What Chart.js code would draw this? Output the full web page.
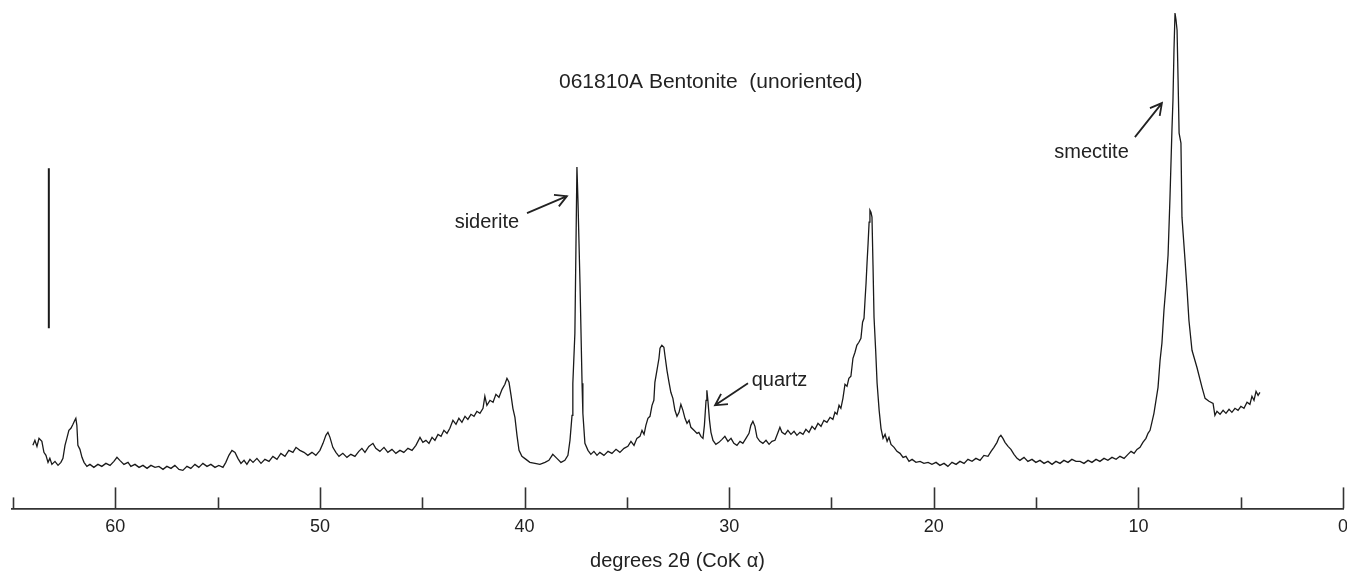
<!DOCTYPE html>
<html lang="en">
<head>
    <meta charset="utf-8" />
    <title>061810A Bentonite (unoriented)</title>
    <script src="https://cdn.jsdelivr.net/npm/chart.js"></script>
    <style>
        html, body {
            margin: 0;
            padding: 0;
            background: #fff;
        }
        #wrap {
            width: 1347px;
            height: 577px;
        }
    </style>
</head>
<body>
    <div id="wrap"><canvas id="xrdChart" width="1347" height="577"></canvas></div>

    <script>
        // trace: degrees 2theta (CoK alpha) and intensity (arbitrary units)
        var twoTheta = [
            64.03, 63.93, 63.83, 63.73, 63.59, 63.49, 63.39, 63.29, 63.20, 63.10, 62.95, 62.80, 62.66, 62.56, 62.46, 62.37,
            62.27, 62.17, 62.07, 61.98, 61.93, 61.88, 61.83, 61.73, 61.63, 61.53, 61.39, 61.24, 61.05, 60.85, 60.66, 60.46,
            60.26, 60.07, 59.92, 59.78, 59.58, 59.38, 59.24, 59.04, 58.84, 58.65, 58.45, 58.26, 58.06, 57.87, 57.67, 57.48,
            57.28, 57.09, 56.89, 56.70, 56.50, 56.31, 56.11, 55.92, 55.72, 55.52, 55.33, 55.13, 54.94, 54.74, 54.60, 54.45,
            54.30, 54.15, 54.01, 53.86, 53.71, 53.57, 53.42, 53.27, 53.08, 52.88, 52.69, 52.49, 52.30, 52.10, 51.91, 51.71,
            51.52, 51.32, 51.17, 50.98, 50.78, 50.59, 50.39, 50.20, 50.00, 49.85, 49.71, 49.61, 49.51, 49.37, 49.22, 49.07,
            48.88, 48.68, 48.49, 48.29, 48.10, 47.95, 47.80, 47.61, 47.41, 47.27, 47.07, 46.87, 46.68, 46.48, 46.29, 46.09,
            45.90, 45.70, 45.50, 45.31, 45.11, 44.97, 44.82, 44.67, 44.52, 44.38, 44.23, 44.08, 43.94, 43.79, 43.65, 43.50,
            43.35, 43.21, 43.06, 42.91, 42.77, 42.62, 42.47, 42.33, 42.18, 42.03, 41.94, 41.84, 41.69, 41.54, 41.40, 41.25,
            41.10, 40.96, 40.86, 40.76, 40.66, 40.57, 40.47, 40.37, 40.27, 40.13, 39.93, 39.74, 39.49, 39.25, 39.00, 38.81,
            38.62, 38.42, 38.22, 38.03, 37.88, 37.78, 37.68, 37.64, 37.54, 37.49, 37.44, 37.39, 37.29, 37.19, 37.15, 37.05,
            36.90, 36.76, 36.61, 36.46, 36.32, 36.12, 35.92, 35.73, 35.53, 35.34, 35.14, 34.95, 34.80, 34.65, 34.51, 34.36,
            34.26, 34.16, 34.07, 33.97, 33.87, 33.77, 33.68, 33.63, 33.53, 33.43, 33.38, 33.29, 33.19, 33.14, 33.04, 32.94,
            32.85, 32.75, 32.65, 32.55, 32.45, 32.36, 32.26, 32.16, 32.06, 31.96, 31.87, 31.72, 31.57, 31.48, 31.38, 31.28,
            31.21, 31.13, 31.09, 31.04, 30.96, 30.89, 30.79, 30.65, 30.50, 30.35, 30.21, 30.06, 29.91, 29.77, 29.62, 29.47,
            29.33, 29.18, 29.03, 28.94, 28.84, 28.74, 28.64, 28.50, 28.35, 28.20, 28.05, 27.91, 27.76, 27.61, 27.52, 27.42,
            27.27, 27.13, 26.98, 26.83, 26.69, 26.54, 26.39, 26.25, 26.10, 25.95, 25.81, 25.66, 25.51, 25.37, 25.22, 25.07,
            24.93, 24.83, 24.73, 24.63, 24.54, 24.44, 24.34, 24.24, 24.15, 24.05, 23.95, 23.85, 23.76, 23.66, 23.56, 23.48,
            23.41, 23.36, 23.31, 23.26, 23.21, 23.16, 23.12, 23.07, 23.02, 22.97, 22.92, 22.84, 22.77, 22.67, 22.58, 22.48,
            22.38, 22.28, 22.19, 22.09, 21.94, 21.80, 21.65, 21.50, 21.36, 21.21, 21.06, 20.87, 20.67, 20.48, 20.28, 20.09,
            19.89, 19.70, 19.50, 19.31, 19.11, 18.91, 18.72, 18.52, 18.33, 18.13, 17.94, 17.74, 17.55, 17.35, 17.20, 17.06,
            16.91, 16.81, 16.72, 16.62, 16.52, 16.37, 16.23, 16.08, 15.93, 15.79, 15.59, 15.40, 15.20, 15.01, 14.81, 14.61,
            14.42, 14.22, 14.03, 13.83, 13.64, 13.44, 13.25, 13.05, 12.85, 12.66, 12.46, 12.27, 12.07, 11.88, 11.68, 11.49,
            11.29, 11.09, 10.90, 10.70, 10.51, 10.36, 10.21, 10.07, 9.92, 9.78, 9.63, 9.53, 9.43, 9.34, 9.24, 9.14,
            9.04, 8.94, 8.85, 8.75, 8.65, 8.55, 8.46, 8.36, 8.31, 8.26, 8.21, 8.16, 8.11, 8.06, 8.01, 7.92,
            7.87, 7.72, 7.62, 7.53, 7.38, 7.14, 6.89, 6.74, 6.55, 6.35, 6.26, 6.16, 6.01, 5.86, 5.72, 5.57,
            5.43, 5.28, 5.13, 4.99, 4.84, 4.69, 4.55, 4.45, 4.35, 4.25, 4.15, 4.06
        ];
        var intensity = [
            63, 68, 62, 70, 67, 56, 53, 46, 50, 44, 47, 43, 46, 50, 63, 70,
            78, 80, 84, 88, 90, 83, 63, 59, 51, 46, 42, 44, 41, 44, 42, 45,
            43, 47, 51, 48, 44, 46, 42, 44, 41, 43, 40, 43, 41, 42, 39, 42,
            40, 43, 39, 38, 42, 40, 44, 41, 45, 42, 44, 41, 43, 41, 46, 53,
            58, 56, 50, 45, 48, 44, 49, 46, 50, 45, 49, 47, 52, 49, 55, 52,
            58, 56, 61, 58, 56, 53, 56, 53, 58, 65, 73, 76, 71, 61, 56, 52,
            55, 51, 54, 52, 57, 60, 56, 62, 65, 60, 57, 61, 56, 59, 55, 58,
            56, 60, 58, 63, 71, 66, 68, 65, 71, 68, 74, 72, 78, 75, 80, 88,
            84, 90, 86, 92, 89, 94, 92, 97, 95, 100, 112, 103, 108, 106, 114, 111,
            119, 124, 130, 126, 113, 100, 91, 73, 58, 52, 49, 46, 45, 44, 46, 48,
            54, 50, 46, 48, 53, 68, 93, 125, 175, 258, 341, 308, 225, 125, 95, 65,
            58, 54, 57, 53, 56, 53, 57, 55, 59, 56, 60, 62, 67, 63, 70, 72,
            78, 74, 83, 90, 92, 103, 108, 126, 138, 150, 160, 163, 161, 153, 138, 126,
            116, 110, 98, 92, 96, 104, 98, 90, 85, 88, 81, 78, 75, 76, 72, 70,
            83, 108, 118, 108, 88, 76, 68, 64, 66, 69, 72, 67, 70, 65, 63, 67,
            65, 70, 75, 83, 87, 82, 71, 67, 65, 68, 64, 67, 68, 76, 81, 76,
            74, 78, 74, 77, 73, 76, 74, 79, 76, 82, 79, 85, 82, 88, 86, 91,
            89, 96, 94, 103, 100, 110, 124, 122, 130, 132, 150, 156, 163, 166, 170, 186,
            190, 208, 225, 246, 265, 286, 298, 296, 291, 243, 191, 158, 125, 98, 80, 70,
            74, 67, 71, 64, 61, 57, 55, 51, 52, 47, 49, 46, 47, 45, 46, 44,
            46, 43, 45, 42, 46, 44, 47, 45, 49, 47, 50, 48, 53, 52, 57, 61,
            66, 71, 73, 70, 66, 62, 59, 54, 50, 48, 51, 47, 49, 46, 48, 45,
            47, 44, 47, 45, 48, 46, 49, 47, 47, 45, 48, 46, 49, 47, 50, 48,
            51, 49, 52, 50, 54, 57, 55, 59, 61, 66, 70, 75, 78, 86, 95, 108,
            121, 148, 165, 198, 223, 253, 308, 378, 408, 458, 495, 488, 478, 428, 375, 365,
            291, 248, 218, 188, 158, 141, 121, 110, 107, 105, 93, 97, 94, 98, 95, 99,
            96, 100, 98, 102, 100, 106, 104, 112, 108, 117, 113, 116
        ];

        // vertical intensity scale bar at the left
        var scaleBarX = [63.25, 63.25];
        var scaleBarY = [180, 340];

        // axis marks
        var tickValues = [0, 5, 10, 15, 20, 25, 30, 35, 40, 45, 50, 55, 60, 65];

        // texts
        var chartTitle = "061810A Bentonite  (unoriented)";
        var axisTitle = "degrees 2\u03b8 (CoK \u03b1)";
        var noteText = ["siderite", "quartz", "smectite"];
        var noteAt = [[41.84, 286], [27.54, 128], [12.29, 356]];
        var arrowFrom = [[39.88, 295], [29.08, 125], [10.17, 371]];
        var arrowTo = [[37.93, 312], [30.69, 103], [8.85, 405]];
        var titleAt = [30.9, 426];

        var ink = "#222";
        var fontName = '"Liberation Sans", Arial, Helvetica, sans-serif';

        var trace = twoTheta.map(function (d, i) { return { x: d, y: intensity[i] }; });
        var bar = scaleBarX.map(function (d, i) { return { x: d, y: scaleBarY[i] }; });

        var drawArrow = function (ctx, x1, y1, x2, y2) {
            var a = Math.atan2(y2 - y1, x2 - x1);
            var head = 13, spread = 0.5;
            ctx.beginPath();
            ctx.moveTo(x1, y1);
            ctx.lineTo(x2, y2);
            ctx.moveTo(x2 - head * Math.cos(a - spread), y2 - head * Math.sin(a - spread));
            ctx.lineTo(x2, y2);
            ctx.lineTo(x2 - head * Math.cos(a + spread), y2 - head * Math.sin(a + spread));
            ctx.stroke();
        };

        var extras = {
            id: "extras",
            afterDatasetsDraw: function (chart) {
                var ctx = chart.ctx;
                var xs = chart.scales.x, ys = chart.scales.y;
                var axisY = xs.top;
                ctx.save();

                // tick marks stand up from the axis
                ctx.strokeStyle = "#333";
                ctx.lineWidth = 1.6;
                tickValues.forEach(function (v) {
                    var px = Math.round(xs.getPixelForValue(v)) + 0.5;
                    var len = v % 10 === 0 ? 21 : 11;
                    ctx.beginPath();
                    ctx.moveTo(px, axisY);
                    ctx.lineTo(px, axisY - len);
                    ctx.stroke();
                });

                ctx.fillStyle = ink;
                ctx.textAlign = "center";
                ctx.textBaseline = "middle";
                ctx.font = "21px " + fontName;
                ctx.fillText(chartTitle, xs.getPixelForValue(titleAt[0]), ys.getPixelForValue(titleAt[1]));

                ctx.font = "20px " + fontName;
                ctx.strokeStyle = ink;
                ctx.lineWidth = 1.8;
                noteText.forEach(function (t, i) {
                    ctx.fillText(t, xs.getPixelForValue(noteAt[i][0]), ys.getPixelForValue(noteAt[i][1]));
                    drawArrow(ctx,
                        xs.getPixelForValue(arrowFrom[i][0]), ys.getPixelForValue(arrowFrom[i][1]),
                        xs.getPixelForValue(arrowTo[i][0]), ys.getPixelForValue(arrowTo[i][1]));
                });
                ctx.restore();
            }
        };

        new Chart(document.getElementById("xrdChart"), {
            type: "scatter",
            data: {
                datasets: [{
                    data: trace,
                    showLine: true,
                    borderColor: "#1a1a1a",
                    borderWidth: 1.3,
                    pointRadius: 0,
                    tension: 0
                }, {
                    data: bar,
                    showLine: true,
                    borderColor: "#1a1a1a",
                    borderWidth: 2,
                    pointRadius: 0
                }]
            },
            options: {
                responsive: false,
                animation: false,
                devicePixelRatio: 1,
                layout: { padding: { left: 12, right: 4, top: 0, bottom: 0 } },
                plugins: {
                    legend: { display: false },
                    tooltip: { enabled: false }
                },
                scales: {
                    x: {
                        type: "linear",
                        reverse: true,
                        min: 0,
                        max: 65.05,
                        grid: { display: false, drawTicks: false },
                        border: { display: true, color: "#333", width: 1.8 },
                        // let the "0" label run off the edge like the scan does
                        afterFit: function (scale) {
                            scale.paddingLeft = 0;
                            scale.paddingRight = 0;
                        },
                        ticks: {
                            stepSize: 5,
                            autoSkip: false,
                            maxRotation: 0,
                            padding: 8,
                            color: ink,
                            font: { family: fontName, size: 18 },
                            callback: function (v) { return v % 10 === 0 ? v : ""; }
                        },
                        title: {
                            display: true,
                            text: axisTitle,
                            color: ink,
                            font: { family: fontName, size: 20 },
                            padding: { top: 3, bottom: 4 }
                        }
                    },
                    y: {
                        display: false,
                        min: 0,
                        max: 508
                    }
                }
            },
            plugins: [extras]
        });
    </script>
</body>
</html>
